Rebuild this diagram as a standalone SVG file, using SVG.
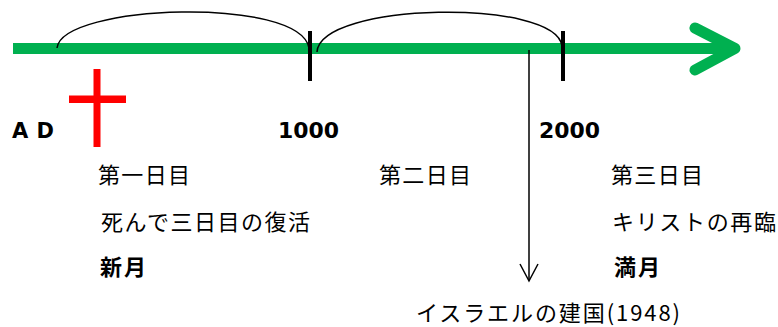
<svg xmlns="http://www.w3.org/2000/svg" width="778" height="327" viewBox="0 0 778 327">
<style>
.jp{font-family:"Noto Sans CJK JP","Noto Sans",sans-serif;font-size:22px;fill:#000}
.b{font-weight:bold}
.num{font-family:"DejaVu Sans",Verdana,sans-serif;font-weight:bold;font-size:21px;fill:#000}
.arc{fill:none;stroke:#000;stroke-width:1.5}
.tick{stroke:#000;stroke-width:4}
</style>
<g id="timeline">
<line x1="13" y1="48.5" x2="734" y2="48.5" stroke="#00b050" stroke-width="11"/>
<path d="M695,28 L735,48.5 L695,70" fill="none" stroke="#00b050" stroke-width="11" stroke-linecap="round" stroke-linejoin="round"/>
</g>
<g id="ticks">
<line class="tick" x1="310" y1="31" x2="310" y2="81"/>
<line class="tick" x1="563" y1="31" x2="563" y2="81"/>
</g>
<g id="cross">
<rect x="93.5" y="69" width="7" height="78" fill="#ff0000"/>
<rect x="69" y="95.5" width="57" height="7.5" fill="#ff0000"/>
</g>
<g id="connectors">
<path class="arc" d="M57,48 C62,4 300,-4 309,48"/>
<path class="arc" d="M317,52 C320,2 556,-2 562,46"/>
<line x1="529" y1="50" x2="529" y2="280" stroke="#000" stroke-width="1.5"/>
<path d="M520,264 L529,281 L538,264" fill="none" stroke="#000" stroke-width="1.5"/>
</g>
<g id="labels">
<text class="num" x="12" y="138" textLength="42" lengthAdjust="spacing">A D</text>
<text class="num" x="278" y="138" textLength="61" lengthAdjust="spacingAndGlyphs">1000</text>
<text class="num" x="539" y="138" textLength="61" lengthAdjust="spacingAndGlyphs">2000</text>
</g>
<g id="day1">
<text class="jp" x="98" y="183" textLength="92">第一日目</text>
<text class="jp" x="101" y="230" textLength="209">死んで三日目の復活</text>
<text class="jp b" x="100" y="275" textLength="46">新月</text>
</g>
<g id="day2">
<text class="jp" x="379" y="183" textLength="92">第二日目</text>
</g>
<g id="day3">
<text class="jp" x="611" y="183" textLength="92">第三日目</text>
<text class="jp" x="612" y="230" textLength="164">キリストの再臨</text>
<text class="jp b" x="614" y="275" textLength="46">満月</text>
</g>
<g id="israel">
<text class="jp" x="416" y="321" textLength="264">イスラエルの建国(1948)</text>
</g>
</svg>
